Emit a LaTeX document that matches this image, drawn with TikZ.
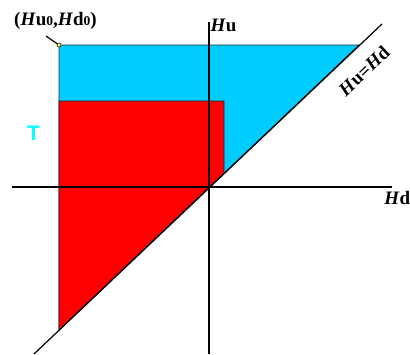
\documentclass[tikz,border=0pt]{standalone}
\usepackage{fontspec}
\setmainfont{Liberation Serif}
\newfontfamily\sansT{Liberation Sans}
\definecolor{skyfill}{RGB}{0,204,255}
\definecolor{tcyan}{RGB}{0,255,255}
\definecolor{edge}{RGB}{20,40,50}
\newcommand{\smz}{{\fontsize{13.5}{13.5}\selectfont 0}}
\begin{document}
\begin{tikzpicture}[x=1pt,y=-1pt,
  axis/.style={draw=black,line width=1.2pt},
  region/.style={draw=edge,line width=0.8pt},
  lbl/.style={font=\bfseries\fontsize{19}{19}\selectfont,inner sep=0pt}]
\useasboundingbox (0,0) rectangle (410,354);
% key points
\coordinate (O) at (209,187);
\coordinate (P0) at (59,45);
\coordinate (TR) at (359,45);
\coordinate (BL) at (59,330);
\coordinate (RTL) at (59,101);
\coordinate (RTR) at (224,101);
\coordinate (RBR) at (224,173);
% blue region
\filldraw[region,fill=skyfill] (P0) -- (TR) -- (BL) -- cycle;
% red region
\filldraw[region,fill=red] (RTL) -- (RTR) -- (RBR) -- (BL) -- cycle;
% axes
\coordinate (XL) at (12,187);
\coordinate (XR) at (392,187);
\coordinate (YT) at (209,22);
\coordinate (YB) at (209,354);
\draw[axis] (XL) -- (XR);
\draw[axis] (YT) -- (YB);
% diagonal
\coordinate (DL) at (34,354);
\coordinate (DR) at (382,24);
\draw[axis] (DL) -- (DR);
% labels
\node[lbl,anchor=south west] (hu) at (210.5,31.5) {\textit{H}u};
\node[lbl,anchor=north east] (hd) at (410.5,191) {\textit{H}d};
\node[lbl,rotate=43.5] (eq) at (364,71) {\textit{H}u=\textit{H}d};
\node[inner sep=0pt,text=tcyan,font=\sansT\bfseries\fontsize{21}{21}\selectfont] (T) at (33.5,133) {T};
\node[lbl] (p0lab) at (55.5,21) {(\textit{H}u\smz,\textit{H}d\smz)};
\coordinate (leadA) at (46,36);
\draw[line width=1.2pt] (leadA) -- (P0);
\filldraw[fill=yellow!60!white,draw=black,line width=0.5pt] (P0) circle (2pt);
\end{tikzpicture}
\end{document}
